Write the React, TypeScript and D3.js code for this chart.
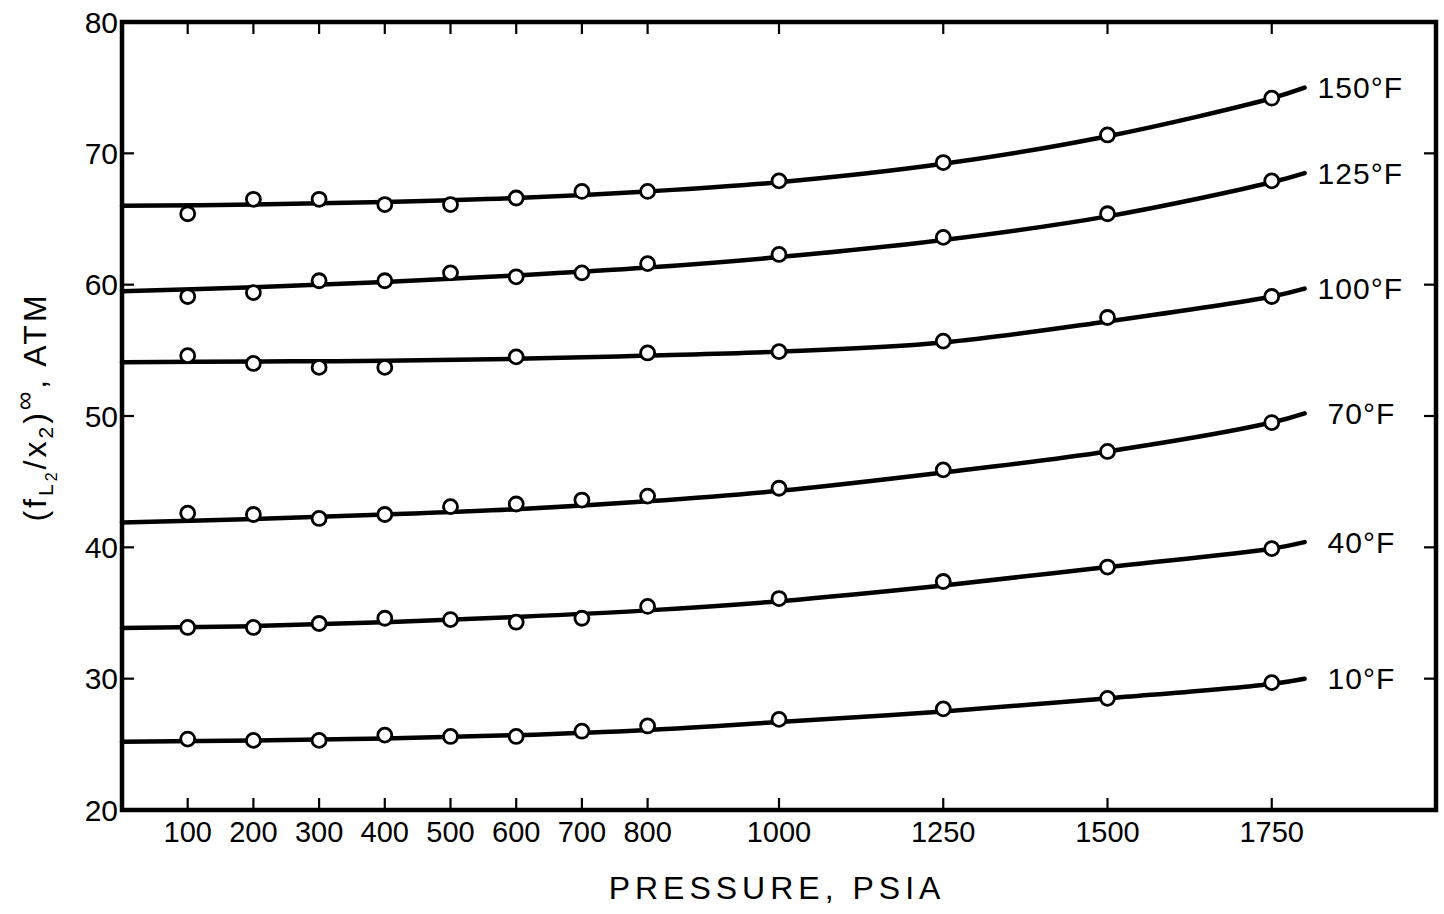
import React from "react";
import * as d3 from "d3";

// Pressures (psia) at which measurements were taken
const pressures = [100, 200, 300, 400, 500, 600, 700, 800, 1000, 1250, 1500, 1750];

// Measured values of (f_L2/x2)^∞ in atm, one array per isotherm (null = not measured)
const obs150 = [65.4, 66.5, 66.5, 66.1, 66.1, 66.6, 67.1, 67.1, 67.9, 69.3, 71.4, 74.2];
const obs125 = [59.1, 59.4, 60.3, 60.3, 60.9, 60.6, 60.9, 61.6, 62.3, 63.6, 65.4, 67.9];
const obs100 = [54.6, 54.0, 53.7, 53.7, null, 54.5, null, 54.8, 54.9, 55.7, 57.5, 59.1];
const obs70 = [42.6, 42.5, 42.2, 42.5, 43.1, 43.3, 43.6, 43.9, 44.5, 45.9, 47.3, 49.5];
const obs40 = [33.9, 33.9, 34.2, 34.6, 34.5, 34.3, 34.6, 35.5, 36.1, 37.4, 38.5, 39.9];
const obs10 = [25.4, 25.3, 25.3, 25.7, 25.6, 25.6, 26.0, 26.4, 26.9, 27.7, 28.5, 29.7];

// Smoothed curves through the data
const curvePressures = [0, 200, 400, 600, 800, 1000, 1250, 1500, 1750, 1800];
const fit150 = [66.0, 66.1, 66.3, 66.6, 67.1, 67.8, 69.2, 71.3, 74.2, 75.0];
const fit125 = [59.5, 59.8, 60.2, 60.7, 61.3, 62.1, 63.4, 65.2, 67.8, 68.5];
const fit100 = [54.1, 54.15, 54.2, 54.35, 54.6, 54.9, 55.6, 57.2, 59.1, 59.7];
const fit70 = [41.9, 42.15, 42.5, 42.9, 43.5, 44.3, 45.7, 47.3, 49.5, 50.2];
const fit40 = [33.85, 34.0, 34.3, 34.7, 35.2, 35.9, 37.1, 38.5, 39.9, 40.4];
const fit10 = [25.2, 25.3, 25.45, 25.7, 26.1, 26.7, 27.5, 28.5, 29.6, 30.0];

const seriesLabels = ["150°F", "125°F", "100°F", "70°F", "40°F", "10°F"];
const observed = [obs150, obs125, obs100, obs70, obs40, obs10];
const fitted = [fit150, fit125, fit100, fit70, fit40, fit10];

// Axis ticks
const xTicks = [100, 200, 300, 400, 500, 600, 700, 800, 1000, 1250, 1500, 1750];
const yTicks = [20, 30, 40, 50, 60, 70, 80];

const W = 1444;
const H = 914;
const left = 122;
const right = 1436;
const top = 22;
const bottom = 810;
const FONT = "'Liberation Sans', Arial, sans-serif";

export default function App() {
  const x = d3.scaleLinear().domain([0, 2000]).range([left, right]);
  const y = d3.scaleLinear().domain([20, 80]).range([bottom, top]);

  const line = d3
    .line<[number, number]>()
    .x((d) => x(d[0]))
    .y((d) => y(d[1]))
    .curve(d3.curveCatmullRom.alpha(0.5));

  const tickLen = 12;
  const innerY = yTicks.filter((t) => t !== 20 && t !== 80);

  return (
    <svg
      width={W}
      height={H}
      viewBox={`0 0 ${W} ${H}`}
      style={{ position: "absolute", left: 0, top: 0, background: "#fff" }}
    >
      <rect x={0} y={0} width={W} height={H} fill="#fff" />

      {/* fitted curves */}
      {fitted.map((vals, i) => (
        <path
          key={"c" + i}
          d={line(curvePressures.map((p, j) => [p, vals[j]] as [number, number])) || ""}
          fill="none"
          stroke="#000"
          strokeWidth={4.5}
          strokeLinecap="round"
        />
      ))}

      {/* measured points */}
      {observed.map((vals, i) =>
        pressures.map((p, j) =>
          vals[j] == null ? null : (
            <circle
              key={"p" + i + "-" + j}
              cx={x(p)}
              cy={y(vals[j] as number)}
              r={7}
              fill="#fff"
              stroke="#000"
              strokeWidth={2.8}
            />
          )
        )
      )}

      {/* isotherm labels */}
      {fitted.map((vals, i) => (
        <text
          key={"l" + i}
          x={x(1800) + (seriesLabels[i].length === 4 ? 23 : 13)}
          y={y(vals[vals.length - 1])}
          dy="0.36em"
          fontFamily={FONT}
          fontSize={30}
          letterSpacing={1}
          fill="#000"
        >
          {seriesLabels[i]}
        </text>
      ))}

      {/* frame */}
      <rect
        x={left}
        y={top}
        width={right - left}
        height={bottom - top}
        fill="none"
        stroke="#000"
        strokeWidth={4.5}
      />

      {/* ticks on all four sides, pointing inward */}
      {xTicks.map((t) => (
        <g key={"xt" + t}>
          <line x1={x(t)} x2={x(t)} y1={bottom} y2={bottom - tickLen} stroke="#000" strokeWidth={2.2} />
          <line x1={x(t)} x2={x(t)} y1={top} y2={top + tickLen} stroke="#000" strokeWidth={2.2} />
        </g>
      ))}
      {innerY.map((t) => (
        <g key={"yt" + t}>
          <line x1={left} x2={left + tickLen} y1={y(t)} y2={y(t)} stroke="#000" strokeWidth={2.2} />
          <line x1={right} x2={right - tickLen} y1={y(t)} y2={y(t)} stroke="#000" strokeWidth={2.2} />
        </g>
      ))}

      {/* tick labels */}
      {xTicks.map((t) => (
        <text
          key={"xl" + t}
          x={x(t)}
          y={bottom + 32}
          textAnchor="middle"
          fontFamily={FONT}
          fontSize={29}
          fill="#000"
        >
          {t}
        </text>
      ))}
      {yTicks.map((t) => (
        <text
          key={"yl" + t}
          x={left - 4}
          y={y(t)}
          dy="0.36em"
          textAnchor="end"
          fontFamily={FONT}
          fontSize={30}
          fill="#000"
        >
          {t}
        </text>
      ))}

      {/* axis titles */}
      <text
        x={(left + right) / 2 - 2}
        y={899}
        textAnchor="middle"
        fontFamily={FONT}
        fontSize={32}
        letterSpacing={5}
        fill="#000"
      >
        PRESSURE, PSIA
      </text>
      <text
        transform={`translate(46, 407) rotate(-90)`}
        textAnchor="middle"
        fontFamily={FONT}
        fontSize={32}
        letterSpacing={3}
        fill="#000"
      >
        (f
        <tspan fontSize={21} dy={7}>L</tspan>
        <tspan fontSize={16} dy={4}>2</tspan>
        <tspan dy={-11}>/x</tspan>
        <tspan fontSize={21} dy={7}>2</tspan>
        <tspan dy={-7}>)</tspan>
        <tspan fontSize={26} dy={-13}>∞</tspan>
        <tspan dy={13}>, ATM</tspan>
      </text>
    </svg>
  );
}
